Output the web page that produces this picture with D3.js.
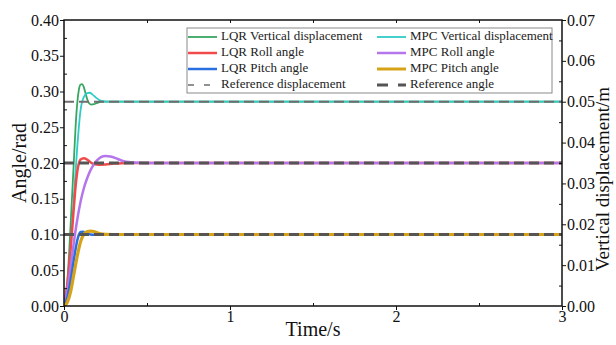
<!DOCTYPE html>
<html>
<head>
<meta charset="utf-8">
<script src="https://cdn.jsdelivr.net/npm/d3@7"></script>
<style>
  html, body { margin: 0; padding: 0; background: #fff; }
  svg { display: block; font-family: "Liberation Serif", "Times New Roman", serif; }
  svg text { font-family: "Liberation Serif", "Times New Roman", serif; }
</style>
</head>
<body>
<svg id="chart" width="616" height="345"></svg>
<script>
// Time samples (s) and responses for each controller
const lqrDispT = [0, 0.02, 0.04, 0.06, 0.07, 0.08, 0.09, 0.10, 0.11, 0.12, 0.13, 0.14, 0.15, 0.165, 0.18, 0.20, 0.23, 0.30, 3];
const lqrDisp  = [0, 0.006, 0.020, 0.036, 0.044, 0.0497, 0.0530, 0.0542, 0.0543, 0.0535, 0.0520, 0.0506, 0.0497, 0.0493, 0.0494, 0.0497, 0.0500, 0.0500, 0.0500];

const mpcDispT = [0, 0.02, 0.04, 0.06, 0.08, 0.10, 0.12, 0.14, 0.155, 0.17, 0.19, 0.21, 0.24, 0.28, 3];
const mpcDisp  = [0, 0.004, 0.014, 0.027, 0.039, 0.048, 0.0512, 0.0521, 0.0522, 0.0518, 0.0511, 0.0505, 0.0501, 0.0500, 0.0500];

const lqrRollT = [0, 0.02, 0.04, 0.06, 0.07, 0.08, 0.09, 0.10, 0.12, 0.14, 0.16, 0.18, 0.21, 0.25, 0.30, 0.35, 0.40, 3];
const lqrRoll  = [0, 0.03, 0.08, 0.14, 0.168, 0.188, 0.200, 0.205, 0.2068, 0.2045, 0.201, 0.1985, 0.1975, 0.198, 0.1992, 0.1998, 0.200, 0.200];

const mpcRollT = [0, 0.02, 0.04, 0.06, 0.08, 0.10, 0.12, 0.14, 0.16, 0.18, 0.20, 0.22, 0.25, 0.28, 0.32, 0.36, 0.40, 0.45, 0.50, 3];
const mpcRoll  = [0, 0.022, 0.055, 0.090, 0.121, 0.146, 0.165, 0.179, 0.190, 0.198, 0.204, 0.208, 0.2098, 0.209, 0.206, 0.2025, 0.2012, 0.2004, 0.200, 0.200];

const lqrPitchT = [0, 0.02, 0.04, 0.06, 0.08, 0.09, 0.10, 0.115, 0.13, 0.15, 0.17, 0.20, 0.25, 3];
const lqrPitch  = [0, 0.012, 0.036, 0.066, 0.092, 0.100, 0.1035, 0.104, 0.1025, 0.1005, 0.0998, 0.0998, 0.100, 0.100];

const mpcPitchT = [0, 0.02, 0.04, 0.06, 0.08, 0.10, 0.12, 0.14, 0.16, 0.18, 0.20, 0.22, 0.25, 0.30, 3];
const mpcPitch  = [0, 0.005, 0.020, 0.045, 0.070, 0.090, 0.1005, 0.1042, 0.1048, 0.1042, 0.1025, 0.101, 0.1002, 0.100, 0.100];

// Reference levels
const refDisp = 0.05;
const refAngles = [0.2, 0.1];

// Axis ticks
const timeTicks = [0, 1, 2, 3];
const angleTicks = [0, 0.05, 0.10, 0.15, 0.20, 0.25, 0.30, 0.35, 0.40];
const dispTicks = [0, 0.01, 0.02, 0.03, 0.04, 0.05, 0.06, 0.07];

const FONT = "'Liberation Serif', 'Times New Roman', serif";
const svg = d3.select("#chart");
const L = 64, R = 562, T = 20, B = 306;

const x = d3.scaleLinear().domain([0, 3]).range([L, R]);
const yA = d3.scaleLinear().domain([0, 0.4]).range([B, T]);
const yD = d3.scaleLinear().domain([0, 0.07]).range([B, T]);

const zip = (ts, vs) => ts.map((t, i) => [t, vs[i]]);
const lineA = d3.line().x(d => x(d[0])).y(d => yA(d[1])).curve(d3.curveMonotoneX);
const lineD = d3.line().x(d => x(d[0])).y(d => yD(d[1])).curve(d3.curveMonotoneX);

const plot = svg.append("g");
plot.append("defs").append("clipPath").attr("id", "clip")
  .append("rect").attr("x", L).attr("y", T).attr("width", R - L).attr("height", B - T);
const curves = plot.append("g").attr("clip-path", "url(#clip)");

const series = [
  {name: "LQR Vertical displacement", data: zip(lqrDispT, lqrDisp), gen: lineD, color: "#38a661", w: 1.8},
  {name: "MPC Vertical displacement", data: zip(mpcDispT, mpcDisp), gen: lineD, color: "#2fcbc6", w: 1.8},
  {name: "LQR Roll angle", data: zip(lqrRollT, lqrRoll), gen: lineA, color: "#f04a4a", w: 2.5},
  {name: "MPC Roll angle", data: zip(mpcRollT, mpcRoll), gen: lineA, color: "#b476ea", w: 2.5},
  {name: "LQR Pitch angle", data: zip(lqrPitchT, lqrPitch), gen: lineA, color: "#2a6fe0", w: 2.5},
  {name: "MPC Pitch angle", data: zip(mpcPitchT, mpcPitch), gen: lineA, color: "#d6a217", w: 3.2}
];

series.forEach(s => {
  curves.append("path").datum(s.data)
    .attr("d", s.gen).attr("fill", "none")
    .attr("stroke", s.color).attr("stroke-width", s.w)
    .attr("stroke-linejoin", "round");
});

// Reference lines
curves.append("line")
  .attr("x1", x(0)).attr("x2", x(3)).attr("y1", yD(refDisp)).attr("y2", yD(refDisp))
  .attr("stroke", "#6e6e6e").attr("stroke-width", 2).attr("stroke-dasharray", "10,5");
refAngles.forEach(v => {
  curves.append("line")
    .attr("x1", x(0)).attr("x2", x(3)).attr("y1", yA(v)).attr("y2", yA(v))
    .attr("stroke", "#555").attr("stroke-width", 3).attr("stroke-dasharray", "10,5");
});

// Axes: major ticks outward, minor ticks inward
const axisColor = "#111";
function styleAxis(g) {
  g.attr("font-family", FONT).attr("font-size", 16);
  g.select(".domain").remove();
  g.selectAll(".tick line").attr("stroke", axisColor).attr("stroke-width", 1);
  g.selectAll(".tick text").attr("fill", "#111")
    .attr("font-family", FONT).style("font-family", FONT).style("font-size", "16px");
}

svg.append("g").attr("transform", `translate(0,${B})`)
  .call(d3.axisBottom(x).tickValues(timeTicks).tickFormat(d3.format("d")).tickSize(4).tickPadding(1))
  .call(styleAxis);
svg.append("g").attr("transform", `translate(0,${B})`)
  .call(d3.axisBottom(x).tickValues([0.5, 1.5, 2.5]).tickFormat("").tickSize(-3))
  .call(styleAxis);
svg.append("g").attr("transform", `translate(0,${T})`)
  .call(d3.axisTop(x).tickValues([0.5, 1, 1.5, 2, 2.5]).tickFormat("").tickSize(-3))
  .call(styleAxis);

svg.append("g").attr("transform", `translate(${L},0)`)
  .call(d3.axisLeft(yA).tickValues(angleTicks).tickFormat(d3.format(".2f")).tickSize(4).tickPadding(1))
  .call(styleAxis);
svg.append("g").attr("transform", `translate(${L},0)`)
  .call(d3.axisLeft(yA).tickValues(d3.range(0.025, 0.4, 0.05)).tickFormat("").tickSize(-3))
  .call(styleAxis);

svg.append("g").attr("transform", `translate(${R},0)`)
  .call(d3.axisRight(yD).tickValues(dispTicks).tickFormat(d3.format(".2f")).tickSize(4).tickPadding(1))
  .call(styleAxis);
svg.append("g").attr("transform", `translate(${R},0)`)
  .call(d3.axisRight(yD).tickValues(d3.range(0.005, 0.07, 0.01)).tickFormat("").tickSize(-3))
  .call(styleAxis);

// Frame
svg.append("rect").attr("x", L).attr("y", T).attr("width", R - L).attr("height", B - T)
  .attr("fill", "none").attr("stroke", axisColor).attr("stroke-width", 1.5);

// Axis titles
svg.append("text").attr("transform", `translate(21,${(T + B) / 2}) rotate(-90)`)
  .attr("text-anchor", "middle").attr("dominant-baseline", "middle")
  .style("font-size", "20px").attr("fill", "#111").text("Angle/rad");
svg.append("text").attr("x", (L + R) / 2).attr("y", 336)
  .attr("text-anchor", "middle").style("font-size", "20px").attr("fill", "#111").text("Time/s");
svg.append("text").attr("transform", `translate(605,179) rotate(-90)`)
  .attr("text-anchor", "middle").attr("dominant-baseline", "middle")
  .style("font-size", "19px").attr("fill", "#111").text("Vertical displacement/m");

// Legend
const lg = svg.append("g");
lg.append("rect").attr("x", 187).attr("y", 28).attr("width", 365).attr("height", 65)
  .attr("fill", "#fff").attr("stroke", "#8a8a8a").attr("stroke-width", 1);
const legendItems = [
  {label: series[0].name, color: series[0].color, w: 1.8, col: 0, row: 0},
  {label: series[1].name, color: series[1].color, w: 1.8, col: 1, row: 0},
  {label: series[2].name, color: series[2].color, w: 2.5, col: 0, row: 1},
  {label: series[3].name, color: series[3].color, w: 2.5, col: 1, row: 1},
  {label: series[4].name, color: series[4].color, w: 2.5, col: 0, row: 2},
  {label: series[5].name, color: series[5].color, w: 3, col: 1, row: 2},
  {label: "Reference displacement", color: "#6e6e6e", w: 1.6, col: 0, row: 3, dash: "6,10"},
  {label: "Reference angle", color: "#555", w: 3, col: 1, row: 3, dash: "11,10"}
];
const colX = [188, 377];
const rowY = [37, 53, 69, 85];
legendItems.forEach(it => {
  const lx = colX[it.col], ly = rowY[it.row];
  lg.append("line").attr("x1", lx).attr("x2", lx + 29).attr("y1", ly).attr("y2", ly)
    .attr("stroke", it.color).attr("stroke-width", it.w)
    .attr("stroke-dasharray", it.dash || null);
  lg.append("text").attr("x", lx + 33).attr("y", ly).attr("dominant-baseline", "middle")
    .style("font-size", "13px").attr("fill", "#222").text(it.label);
});
</script>
</body>
</html>
